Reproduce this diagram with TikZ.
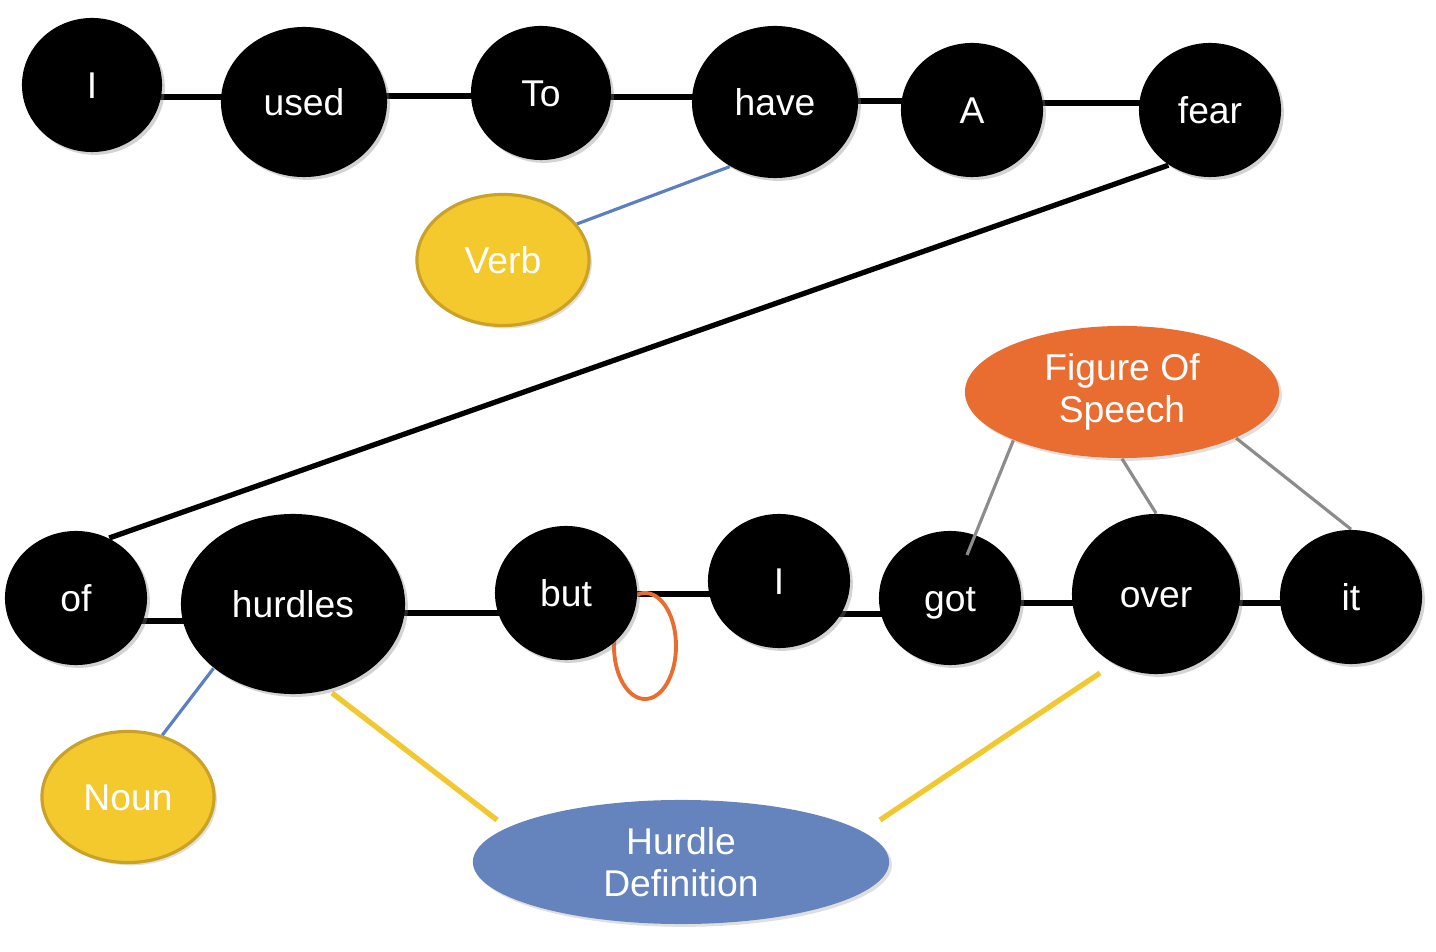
\documentclass[tikz,border=0pt]{standalone}
\usepackage{fontspec}
\setmainfont{Liberation Sans}
\usetikzlibrary{shapes.geometric,calc,backgrounds,shadows}
\definecolor{myyellow}{HTML}{F4C92E}
\definecolor{myyellowb}{HTML}{C9A227}
\definecolor{myorange}{HTML}{E96C30}
\definecolor{myblue}{HTML}{6584BD}
\definecolor{linkblue}{HTML}{5B7FBF}
\definecolor{mygray}{HTML}{8C8C8C}
\definecolor{hdyellow}{HTML}{F2C830}
\begin{document}
\begin{tikzpicture}[x=0.01cm,y=-0.01cm,
  lbl/.style={font=\fontsize{10.6}{11.8}\selectfont, align=center, text=white},
  word/.style={ellipse, fill=black, inner sep=0pt, lbl, text height=0.96em, text depth=0.2em,
    drop shadow={opacity=0.35, shadow xshift=0.8pt, shadow yshift=-0.8pt}},
  posbox/.style={ellipse, fill=myyellow, draw=myyellowb, line width=0.9pt, inner sep=0pt, lbl,
    text height=0.96em, text depth=0.2em,
    drop shadow={opacity=0.25, shadow xshift=0.8pt, shadow yshift=-0.8pt}},
  figbox/.style={ellipse, fill=myorange, inner sep=0pt, lbl,
    drop shadow={opacity=0.25, shadow xshift=0.8pt, shadow yshift=-0.8pt}},
  defbox/.style={ellipse, fill=myblue, inner sep=0pt, lbl,
    drop shadow={opacity=0.25, shadow xshift=0.8pt, shadow yshift=-0.8pt}},
  blk/.style={draw=black, line width=1.5pt},
  bluelink/.style={draw=linkblue, line width=0.9pt},
  graylink/.style={draw=mygray, line width=0.9pt},
  yellink/.style={draw=hdyellow, line width=1.5pt},
  loopline/.style={draw=myorange, line width=1.1pt}]
\useasboundingbox (0,0) rectangle (1436,952);

% top row
\node[word, minimum width=1.40cm, minimum height=1.34cm] (I1) at (92,85) {I};
\node[word, minimum width=1.66cm, minimum height=1.50cm] (used) at (304,102) {used};
\node[word, minimum width=1.40cm, minimum height=1.34cm] (To) at (541,93) {To};
\node[word, minimum width=1.66cm, minimum height=1.52cm] (have) at (775,102) {have};
\node[word, minimum width=1.42cm, minimum height=1.34cm] (A) at (972,110) {A};
\node[word, minimum width=1.42cm, minimum height=1.34cm] (fear) at (1210,110) {fear};

\node[posbox, minimum width=1.72cm, minimum height=1.31cm] (Verb) at (503,260) {Verb};
\node[figbox, minimum width=3.14cm, minimum height=1.32cm] (fig) at (1122,392) {Figure Of\\Speech};

% bottom row
\node[word, minimum width=1.42cm, minimum height=1.34cm] (of) at (76,598) {of};
\node[word, minimum width=2.24cm, minimum height=1.80cm] (hurdles) at (293,604) {hurdles};
\node[word, minimum width=1.42cm, minimum height=1.34cm] (but) at (566,593) {but};
\node[word, minimum width=1.42cm, minimum height=1.34cm] (I2) at (779,581) {I};
\node[word, minimum width=1.42cm, minimum height=1.34cm] (got) at (950,598) {got};
\node[word, minimum width=1.68cm, minimum height=1.60cm] (over) at (1156,594) {over};
\node[word, minimum width=1.42cm, minimum height=1.34cm] (it) at (1351,597) {it};

\node[posbox, minimum width=1.72cm, minimum height=1.31cm] (Noun) at (128,797) {Noun};
\node[defbox, minimum width=4.16cm, minimum height=1.24cm] (HD) at (681,862) {Hurdle\\Definition};

\begin{scope}[on background layer]
  \draw[blk] (I1.center |- 0,97) -- (used.center |- 0,97);
  \draw[blk] (used.center |- 0,96) -- (To.center |- 0,96);
  \draw[blk] (To.center |- 0,97) -- (have.center |- 0,97);
  \draw[blk] (have.center |- 0,101) -- (A.center |- 0,101);
  \draw[blk] (A.center |- 0,103) -- (fear.center |- 0,103);
  \draw[blk] (fear.233) -- (of.61);
  \draw[blk] (of.center |- 0,621) -- (hurdles.center |- 0,621);
  \draw[blk] (hurdles.center |- 0,613) -- (but.center |- 0,613);
  \draw[blk] (but.center |- 0,594) -- (I2.center |- 0,594);
  \draw[blk] (I2.center |- 0,614) -- (got.center |- 0,614);
  \draw[blk] (got.center |- 0,603) -- (over.center |- 0,603);
  \draw[blk] (over.center |- 0,603) -- (it.center |- 0,603);
  \draw[loopline] ($(but.center)+(79,53)$) ellipse [x radius=0.31cm, y radius=0.53cm];
  \draw[bluelink] (Verb.26) -- (have.235);
  \draw[bluelink] (Noun.61) -- (hurdles.219);
  \draw[graylink] (fig.south) -- (over.north);
  \draw[graylink] (fig.338) -- (it.north);
  \draw[yellink] ($(hurdles.center)+(39,89)$) -- ($(HD.center)+(-184,-42)$);
  \draw[yellink] ($(over.center)+(-56,79)$) -- ($(HD.center)+(199,-42)$);
\end{scope}
\draw[graylink] (fig.204) -- ($(got.center)+(17,-43)$);
\end{tikzpicture}
\end{document}
